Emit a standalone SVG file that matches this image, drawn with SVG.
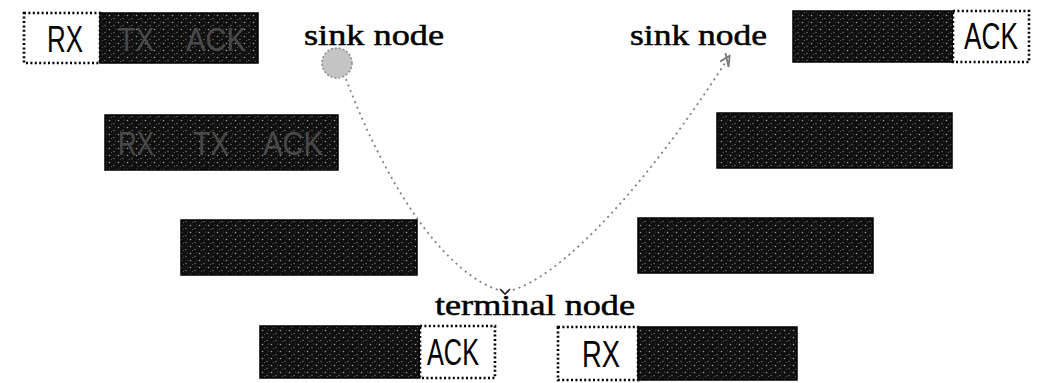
<svg xmlns="http://www.w3.org/2000/svg" width="1041" height="383" viewBox="0 0 1041 383">
  <defs>
    <pattern id="noise" width="9" height="7" patternUnits="userSpaceOnUse">
      <rect width="9" height="7" fill="#101010"/>
      <circle cx="1.5" cy="1.5" r="0.8" fill="#9a9a9a"/>
      <circle cx="6" cy="4.5" r="0.7" fill="#7a7a7a"/>
      <circle cx="3.5" cy="5.5" r="0.6" fill="#666"/>
      <circle cx="7.5" cy="1" r="0.5" fill="#5a5a5a"/>
    </pattern>
    <marker id="tip" markerWidth="12" markerHeight="12" refX="6" refY="6" orient="auto" markerUnits="userSpaceOnUse">
      <path d="M1,1 L11,6 L1,11 M1,11 L11,1" fill="none" stroke="#777" stroke-width="1.8"/>
    </marker>
  </defs>
  <style>
    .dark { fill: url(#noise); stroke: #000; stroke-width: 1.5; }
    .slot { fill: #fff; stroke: #000; stroke-width: 2.6; stroke-dasharray: 2 2.4; }
    .lbl { font-family: "Liberation Sans", Arial, sans-serif; font-size: 36px; fill: #000; }
    .faint { font-family: "Liberation Sans", Arial, sans-serif; font-size: 34px; fill: #4a4a4a; }
    .cap { font-family: "Liberation Serif", "Times New Roman", serif; font-size: 29px; fill: #000; stroke: #000; stroke-width: 0.5; }
    .link { fill: none; stroke: #808080; stroke-width: 1.8; stroke-dasharray: 2 4; }
  </style>
  <rect width="1041" height="383" fill="#fff"/>

  <g id="connectors">
    <path class="link" d="M346,79 C380,170 440,276 505,292 C560,282 650,180 727,60" marker-end="url(#tip)"/>
    <path d="M500,289 L505,294 L510,289" fill="none" stroke="#222" stroke-width="1.6"/>
  </g>

  <g id="sink-left">
    <circle cx="337" cy="63" r="15" fill="#c4c4c4" stroke="#8a8a8a" stroke-width="1.5" stroke-dasharray="2 2"/>
    <text class="cap" x="304" y="45" textLength="140" lengthAdjust="spacingAndGlyphs">sink node</text>
  </g>
  <g id="sink-right">
    <text class="cap" x="630" y="45" textLength="137" lengthAdjust="spacingAndGlyphs">sink node</text>
  </g>
  <g id="terminal">
    <text class="cap" x="435" y="315" textLength="200" lengthAdjust="spacingAndGlyphs">terminal node</text>
  </g>

  <g id="row1-left">
    <rect class="slot" x="24" y="13" width="76" height="50"/>
    <text class="lbl" x="47" y="52" textLength="36" lengthAdjust="spacingAndGlyphs">RX</text>
    <rect class="dark" x="100" y="13" width="158" height="50"/>
    <text class="faint" x="118" y="51" textLength="36" lengthAdjust="spacingAndGlyphs">TX</text>
    <text class="faint" x="186" y="51" textLength="60" lengthAdjust="spacingAndGlyphs">ACK</text>
  </g>
  <g id="row1-right">
    <rect class="dark" x="793" y="11" width="160" height="51"/>
    <rect class="slot" x="953" y="11" width="76" height="51"/>
    <text class="lbl" x="964" y="49" textLength="54" lengthAdjust="spacingAndGlyphs">ACK</text>
  </g>
  <g id="row2-left">
    <rect class="dark" x="105" y="115" width="233" height="55"/>
    <text class="faint" x="118" y="155" textLength="36" lengthAdjust="spacingAndGlyphs">RX</text>
    <text class="faint" x="193" y="155" textLength="36" lengthAdjust="spacingAndGlyphs">TX</text>
    <text class="faint" x="263" y="155" textLength="60" lengthAdjust="spacingAndGlyphs">ACK</text>
  </g>
  <g id="row2-right">
    <rect class="dark" x="717" y="113" width="235" height="55"/>
  </g>
  <g id="row3-left">
    <rect class="dark" x="181" y="220" width="236" height="55"/>
  </g>
  <g id="row3-right">
    <rect class="dark" x="638" y="218" width="235" height="55"/>
  </g>
  <g id="bottom-left">
    <rect class="dark" x="260" y="326" width="160" height="52"/>
    <rect class="slot" x="420" y="326" width="75" height="52"/>
    <text class="lbl" x="427" y="365" textLength="52" lengthAdjust="spacingAndGlyphs">ACK</text>
  </g>
  <g id="bottom-right">
    <rect class="slot" x="558" y="327" width="80" height="53"/>
    <text class="lbl" x="582" y="367" textLength="38" lengthAdjust="spacingAndGlyphs">RX</text>
    <rect class="dark" x="638" y="327" width="159" height="53"/>
  </g>
</svg>
